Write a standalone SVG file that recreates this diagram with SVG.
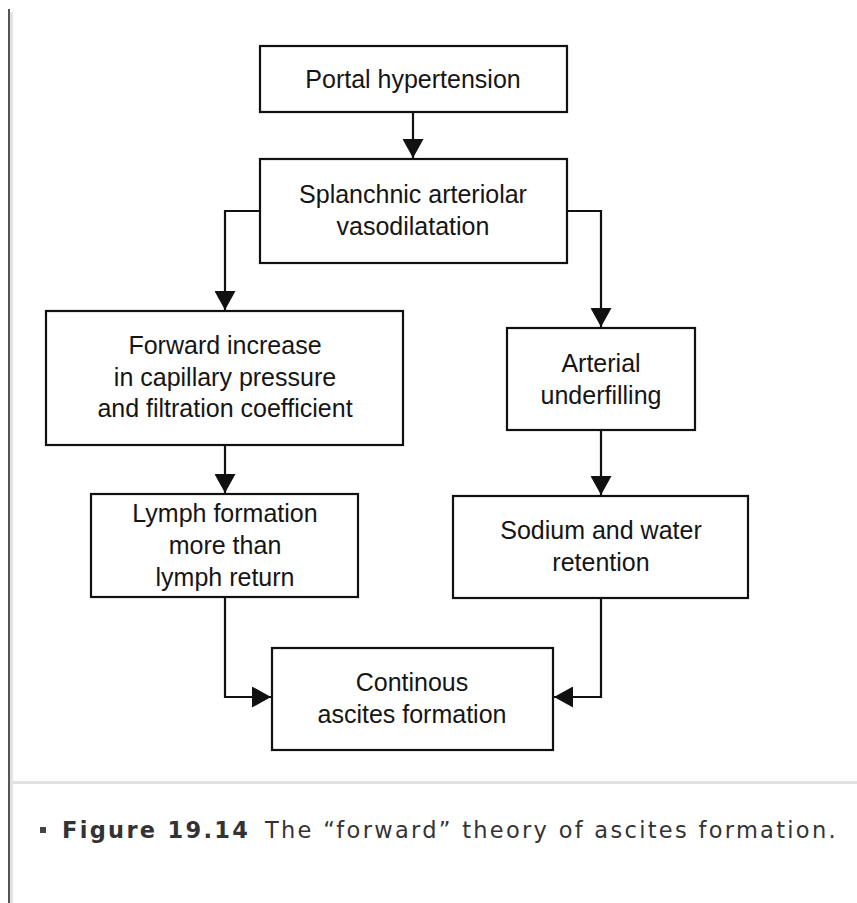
<svg xmlns="http://www.w3.org/2000/svg" width="857" height="903" viewBox="0 0 857 903">
  <style>
    .box { fill: #ffffff; stroke: #111111; stroke-width: 2.2; }
    .lbl { font-family: "Liberation Sans", Arial, sans-serif; font-size: 25px; fill: #151515; text-anchor: middle; }
    .wire { fill: none; stroke: #111111; stroke-width: 2.2; }
    .cap { font-family: "DejaVu Sans", Verdana, sans-serif; font-size: 22.5px; letter-spacing: 2.3px; fill: #333333; }
  </style>
  <defs>
    <marker id="arrow" markerUnits="userSpaceOnUse" viewBox="0 0 19 21" markerWidth="19" markerHeight="21" refX="19" refY="10.5" orient="auto">
      <path d="M0,0 L19,10.5 L0,21 Z" fill="#111111"/>
    </marker>
  </defs>

  <rect width="857" height="903" fill="#ffffff"/>

  <!-- page frame: left rule and caption divider -->
  <rect x="8" y="9" width="2" height="894" fill="#555555"/>
  <rect x="10" y="12" width="3" height="891" fill="#e2e2e2"/>
  <rect x="13" y="781" width="844" height="3" fill="#e2e2e2"/>

  <!-- connectors -->
  <g id="connectors">
    <path class="wire" d="M413,112 V158" marker-end="url(#arrow)"/>
    <path class="wire" d="M260,211 H225 V310" marker-end="url(#arrow)"/>
    <path class="wire" d="M567,211 H601 V327" marker-end="url(#arrow)"/>
    <path class="wire" d="M225,445 V493" marker-end="url(#arrow)"/>
    <path class="wire" d="M601,430 V495" marker-end="url(#arrow)"/>
    <path class="wire" d="M225,597 V697 H271" marker-end="url(#arrow)"/>
    <path class="wire" d="M601,598 V697 H554" marker-end="url(#arrow)"/>
  </g>

  <g id="portal-hypertension">
    <rect class="box" x="260" y="46" width="307" height="66"/>
    <text class="lbl" x="413" y="88">Portal hypertension</text>
  </g>

  <g id="splanchnic-vasodilatation">
    <rect class="box" x="260" y="159" width="307" height="104"/>
    <text class="lbl" x="413" y="203">Splanchnic arteriolar</text>
    <text class="lbl" x="413" y="235">vasodilatation</text>
  </g>

  <g id="forward-increase">
    <rect class="box" x="46" y="311" width="357" height="134"/>
    <text class="lbl" x="225" y="354">Forward increase</text>
    <text class="lbl" x="225" y="386">in capillary pressure</text>
    <text class="lbl" x="225" y="417">and filtration coefficient</text>
  </g>

  <g id="lymph-formation">
    <rect class="box" x="91" y="494" width="267" height="103"/>
    <text class="lbl" x="225" y="522">Lymph formation</text>
    <text class="lbl" x="225" y="554">more than</text>
    <text class="lbl" x="225" y="586">lymph return</text>
  </g>

  <g id="arterial-underfilling">
    <rect class="box" x="507" y="328" width="188" height="102"/>
    <text class="lbl" x="601" y="372">Arterial</text>
    <text class="lbl" x="601" y="404">underfilling</text>
  </g>

  <g id="sodium-water-retention">
    <rect class="box" x="453" y="496" width="295" height="102"/>
    <text class="lbl" x="601" y="539">Sodium and water</text>
    <text class="lbl" x="601" y="571">retention</text>
  </g>

  <g id="ascites-formation">
    <rect class="box" x="272" y="648" width="281" height="102"/>
    <text class="lbl" x="412" y="691">Continous</text>
    <text class="lbl" x="412" y="723">ascites formation</text>
  </g>

  <!-- caption -->
  <g id="caption">
    <rect x="40" y="827" width="6" height="6" fill="#444444"/>
    <text class="cap" x="62" y="838"><tspan font-weight="bold">Figure 19.14</tspan><tspan x="265">The “forward” theory of ascites formation.</tspan></text>
  </g>
</svg>
